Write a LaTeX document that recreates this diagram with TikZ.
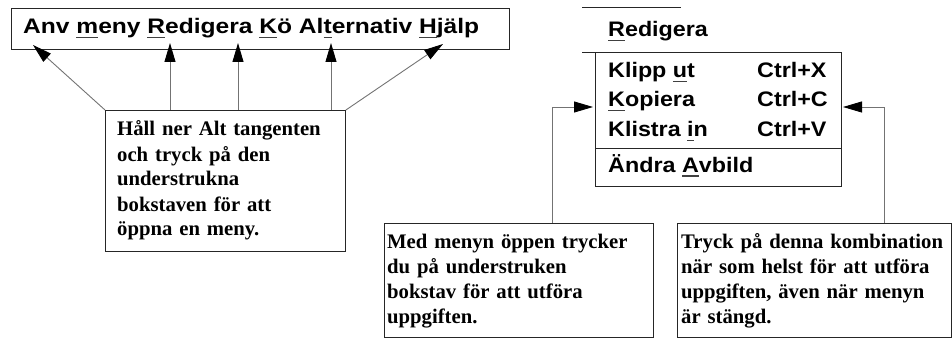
\documentclass[tikz,border=0pt]{standalone}
\usepackage{fontspec}
\setmainfont{Liberation Serif}
\newfontfamily\hvfont{Liberation Sans}[FakeStretch=1.17]
\newfontfamily\hvmfont{Liberation Sans}[FakeStretch=1.11]
\usetikzlibrary{arrows.meta}
\definecolor{linegray}{gray}{0.45}
\definecolor{boxgray}{gray}{0.15}
\definecolor{ulgray}{gray}{0.25}
\newcommand\mkul[1]{\setbox0\hbox{#1}\rlap{\textcolor{ulgray}{\rule[-4.5pt]{\wd0}{1.6pt}}}\box0}
\tikzset{
  boxed/.style={draw=boxgray, line width=0.9pt, inner sep=0pt},
  conn/.style={draw=linegray, line width=0.9pt, -{Triangle[length=19pt,width=11pt,color=black]}},
  bartextstyle/.style={anchor=base west, inner sep=0pt, font=\hvfont\bfseries\fontsize{21}{25}\selectfont},
  menutext/.style={anchor=base west, inner sep=0pt, font=\hvmfont\bfseries\fontsize{21}{25}\selectfont},
  notetext/.style={anchor=base west, inner sep=0pt, text width=400pt, align=left, font=\bfseries\fontsize{20.7}{25}\selectfont},
}
\begin{document}
\begin{tikzpicture}[x=1pt,y=-1pt]
\useasboundingbox (0,0) rectangle (952,339);
% menu bar
\node (bar) [boxed, anchor=north west, minimum width=498pt, minimum height=41pt] at (11,8) {};
\node (bartext) [bartextstyle] at (23,34) {Anv \mkul{m}eny \mkul{R}edigera \mkul{K}ö Al\mkul{t}ernativ \mkul{H}jälp};
% left note
\node (hall) [boxed, anchor=north west, minimum width=240pt, minimum height=141pt] at (105,110) {};
\node (halltext) [notetext] at (117,136) {Håll ner Alt tangenten\\och tryck på den\\understrukna\\bokstaven för att\\öppna en meny.};
\coordinate (tA) at (33,45);
\coordinate (tR) at (170,43);
\coordinate (tK) at (238,43);
\coordinate (tT) at (331,43);
\coordinate (tH) at (443,44);
\draw[conn] (hall.north west) -- (tA);
\draw[conn] (hall.north -| tR) -- (tR);
\draw[conn] (hall.north -| tK) -- (tK);
\draw[conn] (hall.north -| tT) -- (tT);
\draw[conn] (hall.north east) -- (tH);
% Redigera menu
\draw[boxgray, line width=0.9pt] (582,7) -- (681,7);
\node (redtitle) [menutext] at (608,37) {\mkul{R}edigera};
\draw[boxgray, line width=0.9pt] (582,52) -- (682,52);
\node (menu) [boxed, anchor=north west, minimum width=246pt, minimum height=134pt] at (595,52) {};
\coordinate (sep) at (0,148);
\draw[boxgray, line width=0.9pt] (menu.west |- sep) -- (menu.east |- sep);
\node (i1) [menutext] at (608,78) {Klipp \mkul{u}t};
\node (i2) [menutext] at (608,107) {\mkul{K}opiera};
\node (i3) [menutext] at (608,137) {Klistra \mkul{i}n};
\node (i4) [menutext] at (608,172) {Ändra \mkul{A}vbild};
\node (c1) [menutext] at (757,78) {Ctrl+X};
\node (c2) [menutext] at (757,107) {Ctrl+C};
\node (c3) [menutext] at (757,137) {Ctrl+V};
% bottom notes
\node (med) [boxed, anchor=north west, minimum width=269pt, minimum height=114pt] at (384,223) {};
\node (medtext) [notetext] at (387,248) {Med menyn öppen trycker\\du på understruken\\bokstav för att utföra\\uppgiften.};
\node (tryck) [boxed, anchor=north west, minimum width=274pt, minimum height=114pt] at (677,223) {};
\node (trycktext) [notetext] at (681,248) {Tryck på denna kombination\\när som helst för att utföra\\uppgiften, även när menyn\\är stängd.};
\coordinate (kopL) at (593,107);
\coordinate (kopR) at (843,107);
\coordinate (lbend) at (552,107);
\coordinate (rbend) at (884,107);
\draw[conn] (med.north -| lbend) -- (lbend) -- (kopL);
\draw[conn] (tryck.north -| rbend) -- (rbend) -- (kopR);
\end{tikzpicture}
\end{document}
